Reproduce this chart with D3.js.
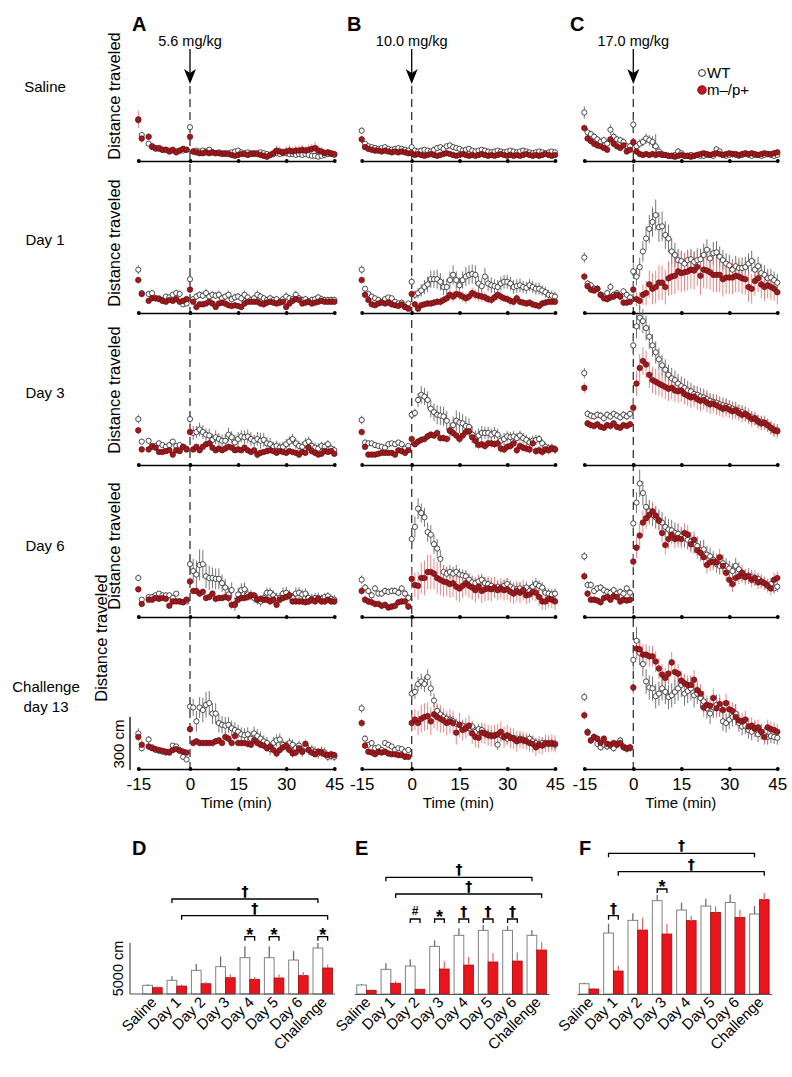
<!DOCTYPE html>
<html><head><meta charset="utf-8">
<script src="https://cdn.jsdelivr.net/npm/d3@7"></script>
<style>body{margin:0;background:#fff}</style>
</head><body>
<svg id="chart" width="792" height="1077"></svg>
<script>
// ---------------- DATA ----------------
const minutes = [-15,-14,-13,-12,-11,-10,-9,-8,-7,-6,-5,-4,-3,-2,-1,
  0,1,2,3,4,5,6,7,8,9,10,11,12,13,14,15,16,17,18,19,20,21,22,23,24,25,26,27,28,29,30,
  31,32,33,34,35,36,37,38,39,40,41,42,43,44,45];
const timeTicks = [-15,0,15,30,45];
const rowNames = ["Saline","Day 1","Day 3","Day 6","Challenge|day 13"];
const doses = ["5.6 mg/kg","10.0 mg/kg","17.0 mg/kg"];
const colLetters = ["A","B","C"];

// distance traveled per minute (cm); WT and m-/p+ means and SEM
const wtA1 = [235,150,null,100,80,70,70,65,65,60,60,55,60,60,65,
  195,55,60,55,60,55,65,50,45,50, 45,40,45,50,55,60,50,45,50,45, 40,45,50,45,40,35,40,45,40,45, 45,40,40,35,40,35,40,35,30,30, 25,30,35,40,40,35];
const mpA1 = [240,130,null,140,85,75,75,65,65,55,65,50,60,70,65,
  140,55,50,45,45,50,45,50,45,45, 40,45,40,35,30,35,40,40,35,40, 45,40,35,30,25,35,45,60,55,50, 55,60,55,60,60,65,60,65,70,75, 60,55,45,50,45,40];
const wtA1e = [20,15,0,12,10,10,10,10,10,10,10,12,10,12,10,
  15,10,10,10,10,10,12,10,10,10, 10,10,12,10,10,10,10,10,10,12, 10,10,10,10,10,10,10,12,10,10, 10,12,10,10,10,10,12,10,10,10, 10,12,10,10,10,10];
const mpA1e = [50,25,0,20,15,12,12,15,12,12,15,15,15,15,15,
  20,12,12,12,15,12,12,15,12,12, 12,15,12,12,12,15,12,12,15,12, 15,12,12,15,12,20,25,30,30,25, 30,30,25,30,30,30,25,30,30,35, 30,25,25,20,20,20];

const wtA2 = [250,115,null,110,115,85,85,75,95,90,105,115,110,50,55,
  195,80,95,105,100,115,95,105,100,105, 85,95,105,80,90,95,85,105,90,75, 85,105,95,85,75,85,75,80,65,80, 95,85,80,105,85,75,80,65,75,80, 90,80,75,75,75,75];
const mpA2 = [190,110,null,70,85,85,80,70,65,75,70,80,65,70,80,
  135,65,35,50,50,55,65,55,35,55, 60,55,45,40,45,40,35,55,65,65, 65,65,55,50,60,65,60,55,60,65, 35,55,70,80,75,55,60,65,55,60, 65,70,65,65,65,65];
const wtA2e = [25,15,0,15,12,15,12,12,15,15,15,20,20,12,12,
  30,15,20,20,20,25,20,20,20,25, 20,20,25,20,20,20,20,25,20,20, 20,25,20,20,20,20,20,20,20,20, 25,20,20,25,20,20,20,20,20,20, 20,20,20,20,20,20];
const mpA2e = [20,15,0,12,12,12,12,12,12,12,12,12,12,12,12,
  20,15,15,15,15,15,15,15,15,15, 15,15,15,15,15,15,15,15,15,15, 15,15,15,15,15,15,15,15,15,15, 15,15,15,15,15,15,15,15,15,15, 15,15,15,15,15,15];

const wtA3 = [265,135,null,140,105,110,125,115,105,115,135,110,115,105,95,
  265,185,190,205,190,175,170,145,160,150, 140,140,175,160,130,150,165,160,165,150, 140,150,140,145,125,120,105,110,100,105, 120,135,150,125,110,105,125,135,110,100, 95,110,105,120,95,85];
const mpA3 = [200,90,null,90,110,100,75,75,80,85,60,85,80,105,90,
  190,90,105,85,105,120,125,100,85,95, 85,95,105,100,85,90,85,100,85,75, 85,60,70,75,80,85,80,70,80,75, 70,80,75,70,60,75,70,100,80,70, 60,65,80,75,80,65];
const wtA3e = [25,15,0,15,12,12,15,15,15,15,15,12,15,12,12,
  30,40,35,40,40,35,40,35,40,35, 35,40,40,35,45,40,35,40,40,40, 35,40,45,40,35,35,30,30,30,30, 30,30,30,30,30,30,30,30,30,30, 30,25,25,25,25,25];
const mpA3e = [20,12,0,12,12,12,12,12,12,12,12,12,12,12,12,
  25,15,15,15,15,15,15,15,15,15, 15,15,15,15,15,15,15,15,15,15, 15,25,15,15,15,15,15,15,15,15, 15,15,15,15,15,15,15,15,15,15, 15,15,15,15,15,15];

const wtA4 = [225,100,null,115,115,125,135,125,125,125,110,135,90,85,90,
  305,265,245,300,305,235,225,225,220,220, 195,170,130,155,75,130,155,160,130,125, 110,100,90,110,140,140,125,110,110,135, 140,125,110,135,140,130,135,110,105,110, 110,105,115,120,105,100];
const mpA4 = [160,75,null,100,100,110,105,110,105,65,90,90,90,85,100,
  205,150,150,135,145,110,115,135,105,110, 110,115,110,70,70,100,110,110,115,125, 125,100,105,100,100,90,100,70,100,110, 115,125,90,90,90,90,85,90,100,90, 105,90,90,100,90,90];
const wtA4e = [20,15,0,15,15,15,15,15,15,15,15,15,15,15,15,
  50,70,80,90,80,70,70,60,60,60, 50,50,45,45,40,40,40,40,35,30, 30,30,30,30,30,30,30,30,30,35, 35,30,30,35,30,30,30,30,30,30, 30,25,25,25,25,25];
const mpA4e = [20,15,0,12,12,12,12,12,12,12,12,12,12,12,12,
  25,20,20,20,20,20,20,20,20,20, 20,20,20,25,25,20,20,20,20,20, 20,20,20,20,20,20,25,20,20,20, 20,20,20,20,20,20,20,20,20,20, 20,20,20,20,20,20];

const wtA5 = [205,120,null,170,125,110,105,100,95,100,135,130,110,70,55,
  360,355,275,355,340,370,380,320,320,265, 255,250,255,235,225,215,200,195,200,175, 205,190,175,160,150,115,150,165,170,140, 130,150,140,120,135,100,130,110,110,100, 90,100,95,70,75,70];
const mpA5 = [185,140,null,130,120,115,110,105,100,95,110,115,105,100,95,
  230,150,160,150,150,150,150,150,160,165, 150,185,175,150,190,150,150,150,145,140, 165,150,140,135,120,130,110,90,110,125, 135,110,90,95,120,100,145,110,95,85, 100,95,85,80,85,80];
const wtA5e = [30,20,0,20,15,15,15,15,15,15,15,15,15,15,15,
  40,50,60,60,70,75,70,60,60,55, 50,50,45,45,45,40,40,40,40,40, 40,40,40,35,35,35,35,35,35,30, 30,30,30,30,30,30,30,30,30,30, 30,30,30,25,25,25];
const mpA5e = [25,30,0,20,15,15,15,15,15,15,15,15,15,15,15,
  25,20,20,20,20,20,20,20,20,20, 20,25,25,20,25,20,20,20,20,20, 20,20,20,20,20,20,20,25,20,20, 20,20,25,20,20,20,25,20,20,20, 20,20,20,20,20,20];

const wtB1 = [175,100,85,80,75,70,75,80,70,65,70,75,70,65,60,
  80,60,55,60,65,60,55,65,75,80, 70,85,90,80,75,70,60,65,70,60, 55,60,65,60,55,50,55,60,55,50, 55,60,55,50,55,60,55,50,45,50, 55,50,45,50,55,50];
const mpB1 = [125,80,70,65,60,60,55,60,55,50,55,50,55,50,45,
  45,35,40,35,30,35,40,35,30,35, 40,45,40,35,30,35,40,35,30,35, 30,35,40,35,30,35,30,35,40,35, 30,35,30,35,30,35,40,35,30,35, 30,35,40,35,30,35];
const wtB1e = [20,15,12,12,12,12,12,12,12,12,12,12,12,12,12,
  15,12,12,12,12,12,12,15,15,15, 15,15,15,15,15,12,12,12,12,12, 12,12,12,12,12,12,12,12,12,12, 12,12,12,12,12,12,12,12,12,12, 12,12,12,12,12,12];
const mpB1e = [20,12,10,10,10,10,10,10,10,10,10,10,10,10,10,
  12,10,10,10,10,10,10,10,10,10, 10,10,10,10,10,10,10,10,10,10, 10,10,10,10,10,10,10,10,10,10, 10,10,10,10,10,10,10,10,10,10, 10,10,10,10,10,10];

const wtB2 = [250,140,110,95,85,75,65,80,90,85,65,55,60,35,55,
  180,105,115,130,150,165,195,195,195,180, 150,150,190,220,190,160,190,210,220,225, 220,170,155,210,170,160,155,150,170,180, 180,170,150,155,160,150,145,160,150,140, 140,130,120,105,100,95];
const mpB2 = [190,105,75,50,45,55,60,55,60,50,45,40,50,35,25,
  110,50,25,45,50,55,55,60,65,65, 75,85,105,95,110,105,95,85,95,115, 105,100,95,90,80,75,90,105,95,85, 80,70,65,85,65,60,55,60,50,45, 40,55,60,65,65,65];
const wtB2e = [25,15,12,12,12,12,12,12,12,12,12,12,12,12,12,
  25,25,30,35,40,45,50,50,55,50, 45,45,50,55,50,45,50,55,55,55, 55,45,45,50,45,45,40,40,40,40, 40,40,40,40,40,35,35,35,35,35, 35,30,30,30,30,30];
const mpB2e = [20,15,12,12,12,12,12,12,12,12,12,12,12,12,12,
  20,15,15,15,15,20,20,20,20,25, 25,25,30,30,30,30,30,30,30,30, 30,30,30,30,25,25,25,30,30,25, 25,25,25,25,20,20,20,20,20,20, 20,20,20,20,20,20];

const wtB3 = [260,130,125,125,115,110,105,100,120,125,120,130,120,95,110,
  290,300,375,405,395,375,325,305,290,285, 280,255,195,230,255,245,240,225,220,175, 150,170,185,185,185,175,185,175,140,150, 165,160,165,155,170,155,145,130,140,145, 150,125,105,95,100,90];
const mpB3 = [190,105,60,60,60,65,70,70,70,70,60,85,80,70,85,
  150,120,135,145,150,165,175,170,185,155, 155,150,200,185,170,150,170,190,195,160, 140,115,120,110,125,125,120,125,95,90, 105,110,125,85,110,100,95,90,125,80, 85,75,90,85,95,90];
const wtB3e = [25,15,12,12,12,12,12,12,12,12,12,12,12,12,12,
  25,25,40,50,50,50,50,50,55,55, 55,55,50,50,60,60,55,55,50,50, 50,40,40,35,35,35,35,35,35,35, 30,30,30,30,30,30,30,30,30,30, 25,25,25,25,25,25];
const mpB3e = [20,15,12,12,12,12,12,12,12,12,12,12,12,12,12,
  20,20,20,20,20,20,20,20,20,20, 20,20,25,25,25,25,25,25,25,25, 25,25,25,25,25,25,25,25,25,25, 25,25,25,25,25,25,25,25,25,25, 25,25,25,25,25,25];

const wtB4 = [215,170,150,125,165,135,135,150,145,150,150,140,165,135,110,
  450,520,625,600,575,490,475,420,395,335, 260,250,260,250,260,245,240,235,215,200, 195,205,215,195,190,180,160,175,170,180, 190,175,165,160,165,150,170,150,175,190, 180,170,140,135,130,135];
const mpB4 = [150,100,90,85,75,75,65,70,55,60,65,85,90,90,60,
  220,185,180,225,225,260,260,250,225,215, 205,200,190,195,175,165,180,195,180,170, 155,175,150,160,165,160,170,155,165,155, 160,145,135,150,140,155,125,130,145,140, 115,90,90,105,100,90];
const wtB4e = [25,20,20,20,20,20,20,20,20,20,20,20,20,20,20,
  60,60,60,55,55,55,55,55,55,50, 40,40,40,40,40,35,35,35,35,35, 35,35,35,35,35,35,35,35,35,35, 35,35,35,35,35,35,35,35,35,35, 30,30,30,30,30,30];
const mpB4e = [25,20,20,20,20,20,20,20,20,20,20,20,20,20,20,
  60,70,80,90,100,100,100,90,90,90, 90,80,80,80,80,80,70,70,70,70, 70,70,70,70,70,70,60,60,60,60, 60,60,60,60,60,60,50,50,50,50, 50,50,50,50,50,50];

const wtB5 = [350,175,140,150,120,125,110,150,140,130,110,120,115,100,110,
  435,445,490,505,490,530,465,395,335,315, 300,290,285,275,260,255,250,240,235,245, 215,230,225,205,200,195,190,140,195,185, 175,185,180,165,175,170,165,175,160,150, 145,150,145,150,145,140];
const mpB5 = [265,135,100,95,85,100,95,100,90,85,85,80,80,70,70,
  265,285,265,290,300,305,275,315,300,290, 280,265,275,265,210,255,225,235,250,205, 185,180,210,205,195,190,195,200,215,185, 195,180,175,160,170,165,160,150,145,125, 140,135,150,145,150,145];
const wtB5e = [25,20,15,15,15,15,15,15,15,15,15,15,15,15,15,
  40,40,40,45,45,45,45,40,35,35, 30,30,30,30,30,30,30,30,30,30, 30,30,30,30,30,30,30,30,30,30, 30,30,30,30,30,30,30,30,30,30, 30,30,30,30,30,30];
const mpB5e = [25,20,15,15,15,15,15,15,15,15,15,15,15,15,15,
  50,60,70,80,80,80,80,80,80,80, 70,70,70,70,70,70,60,60,60,60, 60,60,60,60,60,60,60,60,60,60, 60,60,60,60,50,50,50,50,50,50, 50,50,50,50,50,50];

const wtC1 = [280,165,155,140,125,110,120,100,180,140,125,120,110,85,85,
  210,85,100,110,130,120,110,85,55,40, 35,30,30,35,55,45,30,30,35,30, 35,30,30,35,35,30,67,55,35,30, 35,40,35,30,35,40,35,30,35,35, 30,35,40,35,30,35];
const mpC1 = [190,130,115,100,90,85,75,65,125,100,85,75,90,55,65,
  110,55,40,35,40,35,40,35,40,35, 35,30,30,25,30,35,30,30,25,30, 35,40,45,40,35,40,45,40,35,40, 45,40,40,35,40,45,40,45,40,35, 40,45,40,40,45,50];
const wtC1e = [35,25,20,20,20,20,20,20,30,25,20,20,20,20,20,
  40,20,25,25,30,30,35,70,30,20, 15,15,15,15,20,15,15,15,15,15, 15,15,15,15,15,15,20,15,15,15, 15,15,15,15,15,15,15,15,15,15, 15,15,15,15,15,15];
const mpC1e = [20,15,15,15,15,15,15,15,15,15,15,15,15,15,15,
  20,15,15,15,15,15,15,15,15,15, 15,15,15,15,15,15,15,15,15,15, 15,15,15,15,15,15,15,15,15,15, 15,15,15,15,15,15,15,15,15,15, 15,15,15,15,15,15];

const wtC2 = [320,170,160,140,140,105,95,115,150,105,115,95,125,105,90,
  240,210,265,355,430,485,525,565,495,500, 450,430,355,335,305,300,285,305,310,295, 305,310,335,365,315,345,350,325,305,285, 275,250,270,260,260,265,285,300,250,270, 230,220,200,205,190,175];
const mpC2 = [210,155,135,130,140,105,85,80,90,95,105,95,60,60,65,
  135,80,70,105,115,165,140,150,175,175, 150,200,210,215,240,230,235,240,250,245, 265,215,250,245,235,220,220,220,195,205, 205,205,215,210,200,195,150,140,185,200, 165,150,160,150,140,120];
const wtC2e = [30,20,20,20,20,20,20,20,25,20,20,20,20,20,20,
  45,50,55,60,70,80,85,90,85,85, 80,80,75,70,65,60,60,60,60,60, 60,60,65,60,60,65,65,60,60,60, 60,60,60,60,60,60,60,60,60,55, 55,55,55,50,50,50];
const mpC2e = [25,20,20,20,20,20,20,20,20,20,20,20,20,20,20,
  40,40,50,60,70,80,90,95,100,100, 100,100,105,105,110,110,110,110,110,110, 110,110,105,105,100,100,100,100,100,95, 95,95,95,90,90,90,85,85,85,80, 80,80,75,75,70,70];

const wtC3 = [530,295,285,280,290,285,270,290,280,295,285,275,290,280,295,
  690,800,850,830,790,740,690,650,610,575, 550,520,500,490,470,455,445,430,425,410, 405,395,390,380,370,365,360,350,345,340, 335,325,320,310,305,295,285,275,265,255, 250,240,230,215,205,200];
const mpC3 = [445,240,230,225,235,220,215,230,225,240,220,215,230,225,235,
  330,470,560,600,580,520,490,480,470,460, 450,440,445,430,425,430,410,400,390,395, 380,370,375,360,350,355,345,335,325,330, 320,310,315,300,290,295,280,265,270,250, 240,245,230,215,200,195];
const wtC3e = [30,20,20,20,20,20,20,20,20,20,20,20,20,20,20,
  60,70,70,70,70,70,65,65,65,60, 60,60,60,55,55,55,55,55,50,50, 50,50,50,50,45,45,45,45,45,45, 40,40,40,40,40,40,40,35,35,35, 35,35,35,35,35,35];
const mpC3e = [30,20,20,20,20,20,20,20,20,20,20,20,20,20,20,
  60,70,80,80,80,75,75,75,70,70, 70,70,65,65,65,65,60,60,60,60, 60,60,55,55,55,55,55,50,50,50, 50,50,50,45,45,45,45,45,40,40, 40,40,40,40,40,40];

const wtC4 = [350,185,185,150,165,170,155,145,140,155,135,145,135,165,140,
  540,660,770,715,635,610,590,575,560,545, 520,505,500,485,480,465,455,445,435,420, 410,385,390,360,350,330,305,295,310,295, 280,265,295,275,240,235,240,230,215,220, 205,195,185,190,165,175];
const mpC4 = [235,135,100,100,95,85,110,115,100,120,115,90,100,95,100,
  320,400,470,545,570,590,610,585,555,485, 415,450,475,450,455,450,485,475,420,445, 385,370,345,300,315,320,315,345,295,255, 215,190,225,235,255,230,235,215,225,200, 205,195,180,165,215,225];
const wtC4e = [25,20,20,20,20,20,20,20,20,20,20,20,20,20,20,
  50,60,80,70,70,65,65,65,60,60, 60,60,60,60,60,55,55,55,55,55, 55,55,55,50,50,50,50,50,50,45, 45,45,45,40,40,40,40,40,35,35, 35,35,35,35,30,30];
const mpC4e = [25,20,20,20,20,20,20,20,20,20,20,20,20,20,20,
  40,60,70,70,60,60,55,55,55,55, 55,55,55,55,55,55,55,55,50,50, 50,50,50,50,50,50,50,50,50,45, 45,45,45,45,45,45,45,45,45,40, 40,40,40,40,40,40];

const wtC5 = [415,215,165,185,145,125,140,130,135,120,145,165,130,115,120,
  630,740,670,605,505,470,465,420,435,465, 445,415,425,445,465,485,435,450,465,425, 435,410,390,350,320,355,370,355,275,265, 285,300,320,265,245,250,225,215,230,200, 215,195,185,190,185,180];
const mpC5 = [310,210,165,185,175,150,175,145,140,150,140,150,125,120,125,
  470,695,690,660,660,650,650,620,580,545, 525,550,615,560,550,510,495,485,485,515, 455,435,355,370,365,410,350,375,340,380, 345,335,300,280,275,285,245,250,235,240, 215,185,240,230,225,215];
const wtC5e = [25,20,20,20,20,20,20,20,20,20,20,20,20,20,20,
  60,80,70,70,70,70,70,70,70,70, 70,70,70,70,70,70,70,70,70,70, 60,60,60,60,60,60,60,55,55,55, 55,55,55,50,50,50,50,50,45,45, 45,45,45,40,40,40];
const mpC5e = [25,20,20,20,20,20,20,20,20,20,20,20,20,20,20,
  40,60,60,60,60,60,60,60,60,60, 60,60,60,60,55,55,55,55,55,55, 55,55,55,55,55,55,55,55,55,55, 50,50,50,50,50,50,50,50,50,45, 45,45,45,45,45,45];

// Bar summaries (total cm)
const barCats = ["Saline","Day 1","Day 2","Day 3","Day 4","Day 5","Day 6","Challenge"];
const wtD = [850,1340,2320,2680,3560,3560,3330,4510];
const wtDe = [100,390,620,1010,1110,1110,880,490];
const mpD = [620,780,1010,1600,1440,1570,1800,2550];
const mpDe = [130,160,200,330,230,330,360,330];
const wtE = [880,2420,2740,4670,5750,6240,6240,5750];
const wtEe = [100,590,660,590,690,560,420,490];
const mpE = [360,1050,460,2450,2840,3140,3230,4310];
const mpEe = [70,230,70,750,780,850,850,750];
const wtF = [1010,5980,7220,9150,8230,8620,8980,7840];
const wtFe = [100,910,690,560,720,720,780,780];
const mpF = [490,2250,6270,5880,7190,8000,7510,9250];
const mpFe = [100,490,1210,980,490,590,720,660];
const sigD = [["Day 4","*"],["Day 5","*"],["Challenge","*"]];
const sigE = [["Day 2","#"],["Day 3","*"],["Day 4","†"],["Day 5","†"],["Day 6","†"]];
const sigF = [["Day 1","†"],["Day 3","*"]];

// ---------------- LAYOUT ----------------
const FONT = "'Liberation Sans', Arial, Helvetica, sans-serif";
const svg = d3.select("#chart");
svg.append("rect").attr("width",792).attr("height",1077).attr("fill","#fff");

const colX = [[138.3,190,334.3],[361.7,411.7,555],[584.3,633.3,777.3]];
const rowBase = [161,313,465,617,769];
const labelCenters = [96,243,390,546];

const panels = [
  [0,0,wtA1,mpA1,wtA1e,mpA1e],[0,1,wtA2,mpA2,wtA2e,mpA2e],[0,2,wtA3,mpA3,wtA3e,mpA3e],[0,3,wtA4,mpA4,wtA4e,mpA4e],[0,4,wtA5,mpA5,wtA5e,mpA5e],
  [1,0,wtB1,mpB1,wtB1e,mpB1e],[1,1,wtB2,mpB2,wtB2e,mpB2e],[1,2,wtB3,mpB3,wtB3e,mpB3e],[1,3,wtB4,mpB4,wtB4e,mpB4e],[1,4,wtB5,mpB5,wtB5e,mpB5e],
  [2,0,wtC1,mpC1,wtC1e,mpC1e],[2,1,wtC2,mpC2,wtC2e,mpC2e],[2,2,wtC3,mpC3,wtC3e,mpC3e],[2,3,wtC4,mpC4,wtC4e,mpC4e],[2,4,wtC5,mpC5,wtC5e,mpC5e]
].map(a=>({c:a[0],r:a[1],wt:a[2],mp:a[3],wte:a[4],mpe:a[5]}));

const xScales = colX.map(r => d3.scaleLinear().domain([-15,0,45]).range(r));

// column headers, arrows, dashed lines
colX.forEach((r,c)=>{
  const x = xScales[c];
  const x0 = x(0);
  svg.append("text").attr("x",[132,347,570][c]).attr("y",31).text(colLetters[c])
    .attr("font-family",FONT).attr("font-weight","bold").attr("font-size",20);
  svg.append("text").attr("x",x0).attr("y",46).attr("text-anchor","middle").text(doses[c])
    .attr("font-family",FONT).attr("font-size",14.5);
  svg.append("line").attr("x1",x0).attr("x2",x0).attr("y1",49).attr("y2",76)
    .attr("stroke","#000").attr("stroke-width",1.3);
  svg.append("path").attr("d",`M${x0-6},${69} L${x0},${84} L${x0+6},${69} L${x0},${73} Z`).attr("fill","#000");
  svg.append("line").attr("x1",x0).attr("x2",x0).attr("y1",86).attr("y2",rowBase[4])
    .attr("stroke","#333").attr("stroke-width",1.3).attr("stroke-dasharray","8,5");
});

// row labels
rowNames.forEach((n,i)=>{
  const parts = n.split("|");
  const t = svg.append("text").attr("font-family",FONT).attr("font-size",15).attr("text-anchor","middle");
  if (parts.length===1) t.attr("x",45).attr("y",[92,245,398,551][i]).text(n);
  else {
    t.append("tspan").attr("x",46).attr("y",692).text(parts[0]);
    t.append("tspan").attr("x",46).attr("y",712).text(parts[1]);
  }
});
labelCenters.forEach((cy,i)=>{
  svg.append("text").attr("transform",`translate(120,${cy}) rotate(-90)`).attr("text-anchor","middle")
    .attr("font-family",FONT).attr("font-size",16.5).text("Distance traveled");
});
svg.append("text").attr("transform",`translate(107,638) rotate(-90)`).attr("text-anchor","middle")
  .attr("font-family",FONT).attr("font-size",16.5).text("Distance traveled");
svg.append("text").attr("transform",`translate(124,744) rotate(-90)`).attr("text-anchor","middle")
  .attr("font-family",FONT).attr("font-size",15).text("300 cm");

// panels
panels.forEach(p=>{
  const x = xScales[p.c];
  const base = rowBase[p.r];
  const y = d3.scaleLinear().domain([0,300]).range([base, base-52]);
  const g = svg.append("g");
  const ax = d3.axisBottom(x).tickValues(timeTicks).tickSize(0).tickSizeOuter(0).tickPadding(9)
    .tickFormat(p.r===4 ? (d=>String(d)) : (()=>""));
  const axg = g.append("g").attr("transform",`translate(0,${base})`).call(ax);
  axg.select(".domain").attr("stroke","#000").attr("stroke-width",1.6);
  axg.selectAll(".tick").append("circle").attr("r",1.9).attr("fill","#000");
  axg.selectAll(".tick text").attr("font-family",FONT).attr("font-size",17).attr("fill","#000");
  if (p.r===4) {
    g.append("text").attr("x",(x(-15)+x(45))/2).attr("y",808).attr("text-anchor","middle")
      .attr("font-family",FONT).attr("font-size",15).text("Time (min)");
  }
  const idx = minutes.map((m,i)=>i);
  const ok = (arr,i)=> arr[i]!==null && arr[i]!==undefined;
  // error bars
  g.append("g").selectAll("line").data(idx.filter(i=>ok(p.wt,i))).join("line")
    .attr("x1",i=>x(minutes[i])).attr("x2",i=>x(minutes[i]))
    .attr("y1",i=>y(p.wt[i]-(p.wte[i]||0))).attr("y2",i=>y(p.wt[i]+(p.wte[i]||0)))
    .attr("stroke","#666").attr("stroke-width",0.9);
  g.append("g").selectAll("line").data(idx.filter(i=>ok(p.mp,i))).join("line")
    .attr("x1",i=>x(minutes[i])).attr("x2",i=>x(minutes[i]))
    .attr("y1",i=>y(p.mp[i]-(p.mpe[i]||0))).attr("y2",i=>y(p.mp[i]+(p.mpe[i]||0)))
    .attr("stroke","#e27b7b").attr("stroke-width",0.9);
  g.append("g").selectAll("circle").data(idx.filter(i=>ok(p.wt,i))).join("circle")
    .attr("cx",i=>x(minutes[i])).attr("cy",i=>y(p.wt[i])).attr("r",2.6)
    .attr("fill","#fff").attr("stroke","#222").attr("stroke-width",0.8);
  g.append("g").selectAll("circle").data(idx.filter(i=>ok(p.mp,i))).join("circle")
    .attr("cx",i=>x(minutes[i])).attr("cy",i=>y(p.mp[i])).attr("r",2.8)
    .attr("fill","#9e1a1e").attr("stroke","#5a0a0c").attr("stroke-width",0.6);
});

// scale bar 300 cm
{
  const y = d3.scaleLinear().domain([0,300]).range([rowBase[4], rowBase[4]-52]);
  svg.append("line").attr("x1",130).attr("x2",130).attr("y1",y(0)+1).attr("y2",y(300))
    .attr("stroke","#000").attr("stroke-width",1.3);
}

// legend
svg.append("circle").attr("cx",702).attr("cy",73).attr("r",3.4).attr("fill","#fff").attr("stroke","#222").attr("stroke-width",1);
svg.append("text").attr("x",707).attr("y",78).attr("font-family",FONT).attr("font-size",15).text("WT");
svg.append("circle").attr("cx",702).attr("cy",90).attr("r",4.3).attr("fill","#c4161c").attr("stroke","#6a0a0c").attr("stroke-width",0.8);
svg.append("text").attr("x",707).attr("y",95).attr("font-family",FONT).attr("font-size",15).text("m–/p+");

// ---------------- BAR CHARTS ----------------
const yBar = d3.scaleLinear().domain([0,5000]).range([994,943]);
const barPanels = [
  {L:"D", lx:132, r0:140.3, wt:wtD, mp:mpD, wte:wtDe, mpe:mpDe, longY:[899,915.7], smallY:936.7, sig:sigD, axisLeft:130},
  {L:"E", lx:355, r0:354.3, wt:wtE, mp:mpE, wte:wtEe, mpe:mpEe, longY:[877.3,894], smallY:919, sig:sigE},
  {L:"F", lx:579, r0:576.9, wt:wtF, mp:mpF, wte:wtFe, mpe:mpFe, longY:[853.3,871.7], smallY:{"Day 1":915.7,"Day 3":889}, sig:sigF}
];
const step = 24.33;
barPanels.forEach(bp=>{
  const g = svg.append("g");
  const xb = d3.scaleBand().domain(barCats).range([bp.r0, bp.r0+8*step]).paddingInner(0.2).paddingOuter(0.1);
  const xs = d3.scaleBand().domain(["wt","mp"]).range([0, xb.bandwidth()]);
  g.append("text").attr("x",bp.lx).attr("y",855).text(bp.L).attr("font-family",FONT).attr("font-weight","bold").attr("font-size",20);
  // bars
  g.selectAll("rect.w").data(barCats).join("rect").attr("class","w")
    .attr("x",d=>xb(d)+xs("wt")).attr("width",xs.bandwidth())
    .attr("y",(d,i)=>yBar(bp.wt[i])).attr("height",(d,i)=>yBar(0)-yBar(bp.wt[i]))
    .attr("fill","#fff").attr("stroke","#808080").attr("stroke-width",1);
  g.selectAll("rect.m").data(barCats).join("rect").attr("class","m")
    .attr("x",d=>xb(d)+xs("mp")).attr("width",xs.bandwidth())
    .attr("y",(d,i)=>yBar(bp.mp[i])).attr("height",(d,i)=>yBar(0)-yBar(bp.mp[i]))
    .attr("fill","#e8161c").attr("stroke","#a00d10").attr("stroke-width",0.8);
  g.selectAll("line.we").data(barCats).join("line").attr("class","we")
    .attr("x1",d=>xb(d)+xs("wt")+xs.bandwidth()/2).attr("x2",d=>xb(d)+xs("wt")+xs.bandwidth()/2)
    .attr("y1",(d,i)=>yBar(bp.wt[i])).attr("y2",(d,i)=>yBar(bp.wt[i]+bp.wte[i]))
    .attr("stroke","#6e6e6e").attr("stroke-width",1.3);
  g.selectAll("line.me").data(barCats).join("line").attr("class","me")
    .attr("x1",d=>xb(d)+xs("mp")+xs.bandwidth()/2).attr("x2",d=>xb(d)+xs("mp")+xs.bandwidth()/2)
    .attr("y1",(d,i)=>yBar(bp.mp[i])).attr("y2",(d,i)=>yBar(bp.mp[i]+bp.mpe[i]))
    .attr("stroke","#e86a6a").attr("stroke-width",1.3);
  // axis
  const axg = g.append("g").attr("transform","translate(0,994)")
    .call(d3.axisBottom(xb).tickSize(0).tickSizeOuter(0));
  axg.select(".domain").attr("stroke","#555").attr("stroke-width",1.2);
  if (bp.axisLeft) axg.select(".domain").attr("d",`M${bp.axisLeft},0H${bp.r0+8*step}`);
  axg.selectAll(".tick text").attr("font-family",FONT).attr("font-size",15).attr("fill","#000")
    .attr("x",0).attr("y",0).attr("dy",0).attr("text-anchor","end")
    .attr("transform","translate(5,9) rotate(-45)");
  // brackets
  const cx = (cat,s)=> xb(cat)+xs(s)+xs.bandwidth()/2;
  const bracket = (x1,x2,yy,sym)=>{
    g.append("path").attr("d",`M${x1},${yy+4}V${yy}H${x2}V${yy+4}`).attr("fill","none")
      .attr("stroke","#000").attr("stroke-width",1.3);
    const t = g.append("text").attr("x",(x1+x2)/2).attr("text-anchor","middle").attr("fill","#000").text(sym);
    if (sym==="*") t.attr("y",yy+4).attr("font-size",18).attr("font-weight","bold").attr("font-family",FONT);
    else if (sym==="#") t.attr("y",yy-4).attr("font-size",12).attr("font-weight","bold").attr("font-family",FONT);
    else t.attr("y",yy-3).attr("font-size",14).attr("font-weight","bold").attr("font-family","'DejaVu Sans', sans-serif");
  };
  bracket(cx("Day 1","wt"),cx("Challenge","wt"),bp.longY[0],"†");
  bracket(cx("Day 1","mp"),cx("Challenge","mp"),bp.longY[1],"†");
  bp.sig.forEach(([cat,sym])=>{
    const yy = typeof bp.smallY==="number" ? bp.smallY : bp.smallY[cat];
    bracket(cx(cat,"wt"),cx(cat,"mp"),yy,sym);
  });
  if (bp.axisLeft) {
    g.append("line").attr("x1",bp.axisLeft).attr("x2",bp.axisLeft).attr("y1",yBar(0)).attr("y2",yBar(5000))
      .attr("stroke","#555").attr("stroke-width",1.2);
    g.append("text").attr("transform",`translate(123,${(yBar(0)+yBar(5000))/2}) rotate(-90)`).attr("text-anchor","middle")
      .attr("font-family",FONT).attr("font-size",14.5).text("5000 cm");
  }
});
</script>
</body></html>
